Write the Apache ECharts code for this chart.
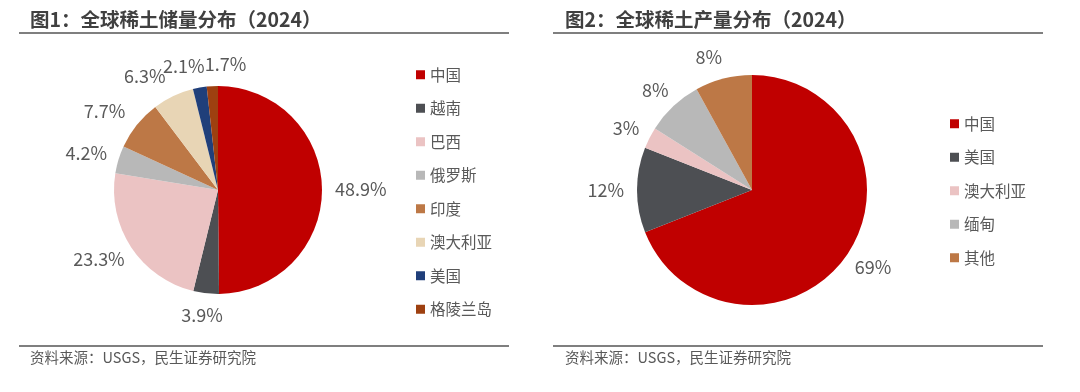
<!DOCTYPE html>
<html><head><meta charset="utf-8">
<script src="https://cdn.jsdelivr.net/npm/echarts@6/dist/echarts.min.js"></script>
<style>html,body{margin:0;padding:0;background:#fff}#c{width:1080px;height:392px}</style>
</head><body><div id="c"></div>
<script>
const reserveCats = ['中国','越南','巴西','俄罗斯','印度','澳大利亚','美国','格陵兰岛'];
const reserveVals = [48.9, 3.9, 23.3, 4.2, 7.7, 6.3, 2.1, 1.7];
const reserveColors = ['#C00000','#4D4F53','#EBC3C3','#B8B8B8','#BD7846','#E8D5B5','#203F7A','#9E4010'];
const prodCats = ['中国','美国','澳大利亚','缅甸','其他'];
const prodVals = [69, 12, 3, 8, 8];
const prodColors = ['#C00000','#4D4F53','#EBC3C3','#B8B8B8','#BD7846'];
const titles = ['图1：全球稀土储量分布（2024）','图2：全球稀土产量分布（2024）'];
const source = '资料来源：USGS，民生证券研究院';

const FONT = '"Noto Sans CJK SC", "Noto Sans", sans-serif';
const chart = echarts.init(document.getElementById('c'));
const lineStyle = {stroke:'#7F7F7F', lineWidth:2};

// Excel-like outside label placement: text box sits just outside the circle
function makeLabelLayout(vals, center, r, nudge){
  const total = vals.reduce((a,b)=>a+b,0);
  const mids = []; let acc = 0;
  vals.forEach(v=>{ mids.push((acc + v/2)/total*2*Math.PI); acc += v; });
  return function(p){
    const a = mids[p.dataIndex];
    const nx = Math.sin(a), ny = -Math.cos(a);
    const w = p.labelRect.width, h = p.labelRect.height;
    const m = 13;
    const x = center[0] + nx*(r+m) + nx*w/2 + (nudge[p.dataIndex]||0);
    const y = center[1] + ny*(r+m) + ny*h/2;
    return {x:x, y:y, align:'center', verticalAlign:'middle'};
  };
}
function pieSeries(cats, vals, colors, center, r, nudge){
  return {
    type:'pie', center:center, radius:r, startAngle:90, clockwise:true,
    avoidLabelOverlap:false, silent:true,
    data: cats.map((n,i)=>({name:n, value:vals[i], itemStyle:{color:colors[i]}})),
    label:{show:true, position:'outside', formatter:'{c}%', color:'#595959', fontSize:18, fontFamily:FONT},
    labelLine:{show:false, length:8, length2:0},
    labelLayout: makeLabelLayout(vals, center, r, nudge),
    itemStyle:{borderWidth:0}
  };
}
function legendData(cats, colors){
  return cats.map((n,i)=>({name:n, icon:'rect', itemStyle:{color:colors[i]}}));
}
chart.setOption({
  animation:false,
  textStyle:{fontFamily:FONT},
  title:[
    {text:titles[0], left:30, top:10, padding:0, textStyle:{fontSize:19.5, fontWeight:'bold', color:'#404040', fontFamily:FONT}},
    {text:titles[1], left:565, top:10, padding:0, textStyle:{fontSize:19.5, fontWeight:'bold', color:'#404040', fontFamily:FONT}},
    {text:source, left:30, top:350, padding:0, textStyle:{fontSize:14.5, fontWeight:'normal', color:'#595959', fontFamily:FONT}},
    {text:source, left:565, top:350, padding:0, textStyle:{fontSize:14.5, fontWeight:'normal', color:'#595959', fontFamily:FONT}}
  ],
  graphic:[
    {type:'line', shape:{x1:19,y1:33,x2:509,y2:33}, style:lineStyle},
    {type:'line', shape:{x1:553,y1:33,x2:1043,y2:33}, style:lineStyle},
    {type:'line', shape:{x1:19,y1:346,x2:509,y2:346}, style:lineStyle},
    {type:'line', shape:{x1:553,y1:346,x2:1043,y2:346}, style:lineStyle}
  ],
  legend:[
    {data:legendData(reserveCats, reserveColors), orient:'vertical', left:416, top:67, padding:0,
     itemWidth:9, itemHeight:9, itemGap:18,
     textStyle:{fontSize:15.5, color:'#595959', fontFamily:FONT}, selectedMode:false},
    {data:legendData(prodCats, prodColors), orient:'vertical', left:950, top:116, padding:0,
     itemWidth:9, itemHeight:9, itemGap:18,
     textStyle:{fontSize:15.5, color:'#595959', fontFamily:FONT}, selectedMode:false}
  ],
  series:[
    pieSeries(reserveCats, reserveVals, reserveColors, [218,190], 104, {4:-6, 5:-14, 6:-10, 7:15}),
    pieSeries(prodCats, prodVals, prodColors, [752,190], 115, {4:-8})
  ]
});
</script></body></html>
